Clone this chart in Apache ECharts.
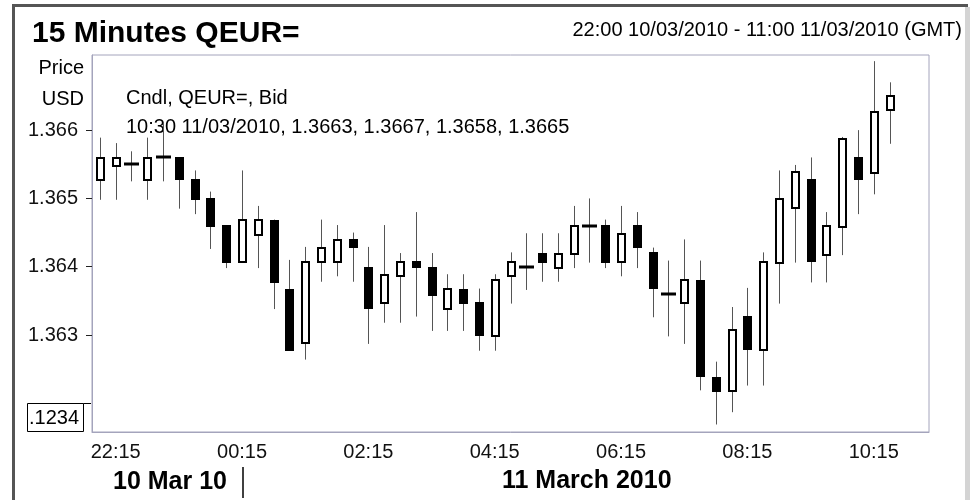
<!DOCTYPE html>
<html>
<head>
<meta charset="utf-8">
<script src="https://cdn.jsdelivr.net/npm/echarts@6/dist/echarts.min.js"></script>
<style>
  html, body { margin: 0; padding: 0; background: #fff; }
  #chart { width: 975px; height: 500px; }
</style>
</head>
<body>
<div id="chart"></div>
<script>
const categories = [
  '22:00', '22:15', '22:30', '22:45', '23:00', '23:15', '23:30', '23:45',
  '00:00', '00:15', '00:30', '00:45', '01:00', '01:15', '01:30', '01:45',
  '02:00', '02:15', '02:30', '02:45', '03:00', '03:15', '03:30', '03:45',
  '04:00', '04:15', '04:30', '04:45', '05:00', '05:15', '05:30', '05:45',
  '06:00', '06:15', '06:30', '06:45', '07:00', '07:15', '07:30', '07:45',
  '08:00', '08:15', '08:30', '08:45', '09:00', '09:15', '09:30', '09:45',
  '10:00', '10:15', '10:30', '10:45', '11:00'
]

// bid prices, one candle per 15 minutes
const opens = [
  1.36527, 1.36548, 1.36550, 1.36527, 1.36560, 1.36560, 1.36528, 1.36500,
  1.36461, 1.36407, 1.36446, 1.36469, 1.36368, 1.36288, 1.36407, 1.36407,
  1.36440, 1.36399, 1.36347, 1.36386, 1.36408, 1.36400, 1.36338, 1.36368,
  1.36348, 1.36299, 1.36386, 1.36400, 1.36420, 1.36398, 1.36419, 1.36460,
  1.36461, 1.36407, 1.36461, 1.36421, 1.36360, 1.36346, 1.36380, 1.36239,
  1.36218, 1.36328, 1.36278, 1.36406, 1.36487, 1.36528, 1.36418, 1.36458,
  1.36560, 1.36538, 1.36630
]
const closes = [
  1.36559, 1.36559, 1.36550, 1.36559, 1.36560, 1.36526, 1.36497, 1.36458,
  1.36406, 1.36468, 1.36468, 1.36377, 1.36277, 1.36407, 1.36428, 1.36439,
  1.36427, 1.36338, 1.36388, 1.36407, 1.36398, 1.36358, 1.36368, 1.36346,
  1.36298, 1.36381, 1.36407, 1.36400, 1.36406, 1.36419, 1.36460, 1.36460,
  1.36406, 1.36448, 1.36427, 1.36367, 1.36360, 1.36380, 1.36238, 1.36217,
  1.36307, 1.36278, 1.36407, 1.36499, 1.36539, 1.36406, 1.36460, 1.36587,
  1.36526, 1.36627, 1.36650
]
const lows = [
  1.36498, 1.36498, 1.36525, 1.36498, 1.36525, 1.36485, 1.36477, 1.36426,
  1.36398, 1.36407, 1.36398, 1.36338, 1.36277, 1.36264, 1.36378, 1.36386,
  1.36378, 1.36287, 1.36318, 1.36318, 1.36327, 1.36306, 1.36306, 1.36306,
  1.36277, 1.36277, 1.36346, 1.36366, 1.36378, 1.36378, 1.36398, 1.36406,
  1.36398, 1.36386, 1.36398, 1.36326, 1.36298, 1.36287, 1.36219, 1.36169,
  1.36187, 1.36226, 1.36226, 1.36346, 1.36406, 1.36377, 1.36377, 1.36417,
  1.36477, 1.36506, 1.36580
]
const highs = [
  1.36589, 1.36581, 1.36569, 1.36589, 1.36612, 1.36560, 1.36541, 1.36510,
  1.36461, 1.36541, 1.36489, 1.36469, 1.36410, 1.36429, 1.36469, 1.36461,
  1.36450, 1.36429, 1.36461, 1.36420, 1.36480, 1.36420, 1.36389, 1.36389,
  1.36368, 1.36389, 1.36421, 1.36449, 1.36449, 1.36449, 1.36489, 1.36500,
  1.36469, 1.36489, 1.36480, 1.36428, 1.36409, 1.36440, 1.36409, 1.36261,
  1.36341, 1.36369, 1.36421, 1.36541, 1.36549, 1.36560, 1.36480, 1.36590,
  1.36600, 1.36701, 1.36670
]
const priceTicks = [1.363, 1.364, 1.365, 1.366]

const font = "'Liberation Sans', Arial, sans-serif"
const labelEvery = (index) => index % 8 === 1

const candles = opens.map((o, i) => [i, o, closes[i], lows[i], highs[i]])

function renderCandle (params, api) {
  const i = api.value(0)
  const o = api.value(1)
  const c = api.value(2)
  const top = api.coord([i, api.value(4)])
  const bot = api.coord([i, api.value(3)])
  const pO = api.coord([i, o])
  const pC = api.coord([i, c])
  const x = Math.round(top[0]) + 0.5
  const children = [{
    type: 'line',
    shape: { x1: x, y1: top[1], x2: x, y2: bot[1] },
    style: { stroke: '#555', lineWidth: 1 }
  }]
  if (o === c) {
    // unchanged price: a wide dash
    children.push({
      type: 'rect',
      shape: { x: x - 7.5, y: Math.round(pO[1]) - 1.5, width: 15, height: 3 },
      style: { fill: '#000' }
    })
  } else if (c > o) {
    children.push({
      type: 'rect',
      shape: { x: x - 3.5, y: Math.round(pC[1]), width: 7, height: Math.round(pO[1] - pC[1]) },
      style: { fill: '#fff', stroke: '#000', lineWidth: 2 }
    })
  } else {
    children.push({
      type: 'rect',
      shape: { x: x - 4.5, y: Math.round(pO[1]), width: 9, height: Math.round(pC[1] - pO[1]) },
      style: { fill: '#000' }
    })
  }
  return { type: 'group', children: children }
}

const option = {
  animation: false,
  backgroundColor: '#fff',
  textStyle: { fontFamily: font },
  grid: {
    left: 92,
    top: 55,
    right: 46,
    bottom: 68,
    show: true,
    borderColor: '#a4a4bc',
    borderWidth: 1,
    outerBoundsMode: 'none'
  },
  xAxis: {
    type: 'category',
    data: categories,
    boundaryGap: true,
    axisLine: { lineStyle: { color: '#a4a4bc' } },
    axisTick: {
      interval: labelEvery,
      alignWithLabel: true,
      length: 8,
      lineStyle: { color: '#333' }
    },
    axisLabel: {
      interval: labelEvery,
      fontSize: 20,
      color: '#111',
      margin: 10
    },
    splitLine: { show: false }
  },
  yAxis: {
    type: 'value',
    min: 1.36158,
    max: 1.3671,
    axisLine: { show: true, lineStyle: { color: '#a4a4bc' } },
    axisTick: {
      show: true,
      customValues: priceTicks,
      length: 6,
      lineStyle: { color: '#222' }
    },
    axisLabel: {
      customValues: priceTicks,
      formatter: (v) => v.toFixed(3),
      fontSize: 20,
      color: '#111',
      margin: 14,
      padding: [10, 0, 0, 0]
    },
    splitLine: { show: false }
  },
  graphic: [
    // outer frame
    { type: 'rect', shape: { x: 12, y: 4, width: 3, height: 496 }, style: { fill: '#555' } },
    { type: 'rect', shape: { x: 12, y: 4, width: 956, height: 3 }, style: { fill: '#555' } },
    { type: 'rect', shape: { x: 965, y: 7, width: 5, height: 493 }, style: { fill: '#d4d4d4' } },
    {
      type: 'text', left: 32, top: 19,
      style: { text: '15 Minutes QEUR=', font: 'bold 30px ' + font, fill: '#000' }
    },
    {
      type: 'text', x: 962, y: 30,
      style: { text: '22:00 10/03/2010 - 11:00 11/03/2010 (GMT)', font: '20px ' + font, fill: '#000', align: 'right', verticalAlign: 'middle' }
    },
    {
      type: 'text', x: 84, y: 68,
      style: { text: 'Price', font: '20px ' + font, fill: '#000', align: 'right', verticalAlign: 'middle' }
    },
    {
      type: 'text', x: 84, y: 99,
      style: { text: 'USD', font: '20px ' + font, fill: '#000', align: 'right', verticalAlign: 'middle' }
    },
    {
      type: 'text', x: 126, y: 98,
      style: { text: 'Cndl, QEUR=, Bid', font: '20px ' + font, fill: '#000', verticalAlign: 'middle' }
    },
    {
      type: 'text', x: 126, y: 127,
      style: { text: '10:30 11/03/2010, 1.3663, 1.3667, 1.3658, 1.3665', font: '20px ' + font, fill: '#000', verticalAlign: 'middle' }
    },
    // price box at bottom left
    { type: 'rect', shape: { x: 27.5, y: 403.5, width: 56, height: 28 }, style: { fill: 'none', stroke: '#000', lineWidth: 1 } },
    { type: 'line', shape: { x1: 83.5, y1: 403.5, x2: 91, y2: 403.5 }, style: { stroke: '#000', lineWidth: 1 } },
    {
      type: 'text', x: 29, y: 418,
      style: { text: '.1234', font: '20px ' + font, fill: '#000', verticalAlign: 'middle' }
    },
    {
      type: 'text', x: 113, y: 482,
      style: { text: '10 Mar 10', font: 'bold 25px ' + font, fill: '#000', verticalAlign: 'middle' }
    },
    { type: 'line', shape: { x1: 243, y1: 467, x2: 243, y2: 498 }, style: { stroke: '#000', lineWidth: 1.5 } },
    {
      type: 'text', x: 502, y: 481,
      style: { text: '11 March 2010', font: 'bold 25px ' + font, fill: '#000', verticalAlign: 'middle' }
    }
  ],
  series: [
    {
      name: 'QEUR=',
      type: 'custom',
      renderItem: renderCandle,
      encode: { x: 0, y: [1, 2, 3, 4] },
      data: candles
    }
  ]
}

const chart = echarts.init(document.getElementById('chart'))
chart.setOption(option)
window.addEventListener('resize', () => chart.resize())
</script>
</body>
</html>
